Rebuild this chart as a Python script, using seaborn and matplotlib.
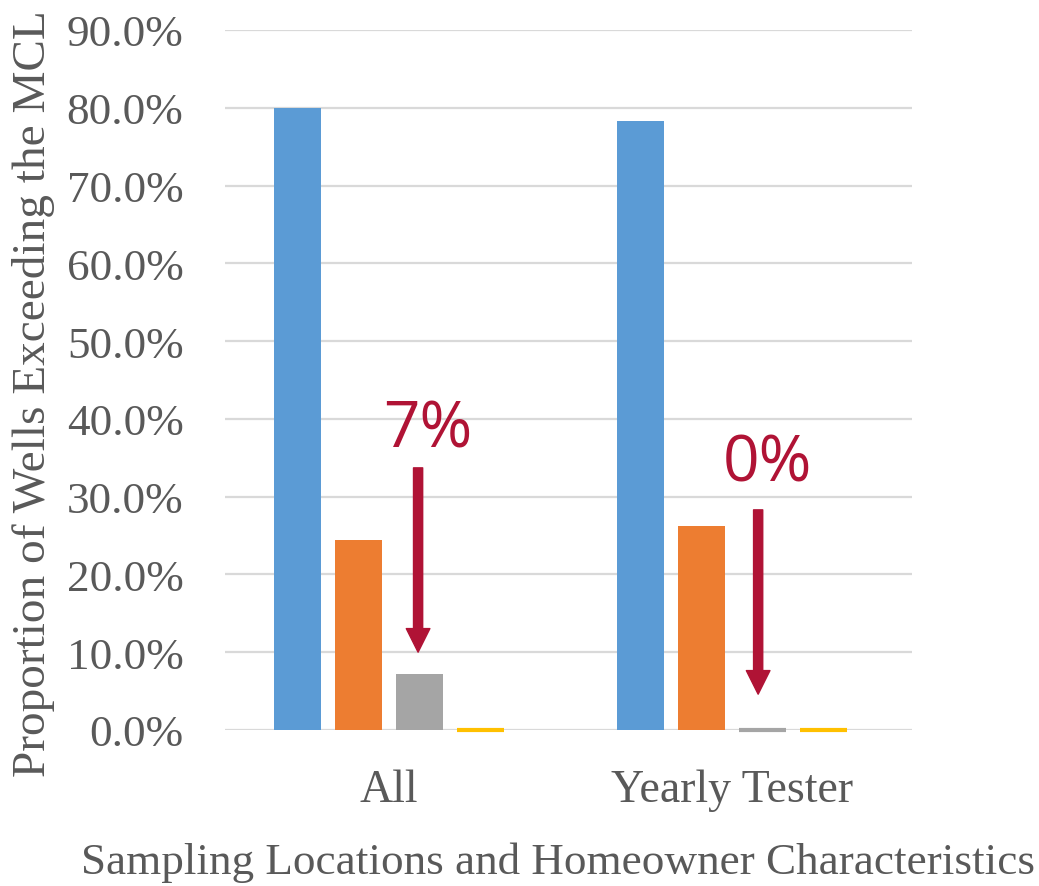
import matplotlib
matplotlib.use("Agg")
import matplotlib.pyplot as plt
import seaborn as sns
import pandas as pd
from matplotlib.ticker import PercentFormatter, MultipleLocator

categories = ["All", "Yearly Tester"]
series_names = ["Series 1", "Series 2", "Series 3", "Series 4"]
series1 = [80.0, 78.3]
series2 = [24.4, 26.2]
series3 = [7.2, 0.0]
series4 = [0.0, 0.0]
colors = ["#5B9BD5", "#ED7D31", "#A5A5A5", "#FFC000"]
annot_labels = ["7%", "0%"]

rows = []
for name, vals in zip(series_names, [series1, series2, series3, series4]):
    for c, v in zip(categories, vals):
        rows.append({"category": c, "series": name, "value": v})
df = pd.DataFrame(rows)

sns.set_theme(style="white")
plt.rcParams["font.family"] = ["Liberation Serif", "DejaVu Serif"]

fig = plt.figure(figsize=(10.39, 8.87), dpi=100)
ax = fig.add_axes([0.2166, 0.1759, 0.6612, 0.7892])

sns.barplot(data=df, x="category", y="value", hue="series", palette=colors,
            width=0.71, gap=0.23, legend=False, ax=ax, linewidth=0, saturation=1)

for p in ax.patches:
    if abs(p.get_height()) < 1e-9:
        p.set_edgecolor(p.get_facecolor())
        p.set_linewidth(3)
        p.set_clip_on(False)

ax.set_ylim(0, 90)
ax.set_xlim(-0.477, 1.523)
ax.yaxis.set_major_locator(MultipleLocator(10))
ax.yaxis.set_major_formatter(PercentFormatter(xmax=100, decimals=1))
ax.grid(axis="y", color="#D9D9D9", linewidth=1.6)
ax.set_axisbelow(True)
for s in ax.spines.values():
    s.set_visible(False)

ax.tick_params(axis="y", length=0, pad=30, labelsize=32.5, labelcolor="#595959")
ax.tick_params(axis="x", length=0, pad=28, labelsize=33, labelcolor="#595959")

ax.set_ylabel("Proportion of Wells Exceeding the MCL", fontsize=34, color="#595959")
ax.yaxis.set_label_coords(-0.2475, 0.4826)
ax.set_xlabel("Sampling Locations and Homeowner Characteristics", fontsize=32.5, color="#595959")
ax.xaxis.set_label_coords(0.485, -0.16)

red = "#B01335"
arrow_specs = [(0.085, 33.7, 10.0, 0.1125, 38.6), (1.075, 28.3, 4.6, 1.1024, 34.3)]
for lab, (x, ytop, ytip, tx, ty) in zip(annot_labels, arrow_specs):
    ax.annotate("", xy=(x, ytip), xytext=(x, ytop),
                arrowprops=dict(arrowstyle="simple,head_length=0.85,head_width=0.85,tail_width=0.33",
                                color=red, shrinkA=0, shrinkB=0, mutation_scale=20),
                annotation_clip=False)
    ax.text(tx, ty, lab, ha="center", va="center", fontsize=46, color=red,
            family=["Open Sans", "DejaVu Sans"])

fig.savefig("out.png", dpi=100, facecolor="white")
